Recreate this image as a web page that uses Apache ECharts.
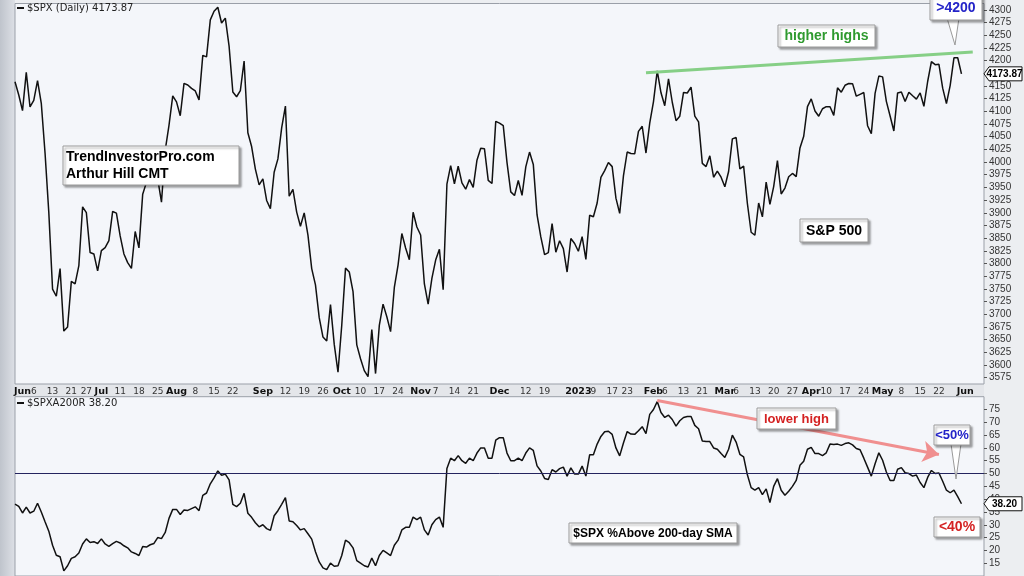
<!DOCTYPE html>
<html><head><meta charset="utf-8">
<script src="https://cdn.jsdelivr.net/npm/echarts@6/dist/echarts.min.js"></script>
<style>html,body{margin:0;padding:0;background:#e6e8ec}#c{width:1024px;height:576px}</style>
</head><body><div id="c"></div>
<script>
// Trading days (month -> days), last few June 2023 slots are empty space on the right
const tradingDays = [
 ['2022-05',[27,31]],
 ['2022-06',[1,2,3,6,7,8,9,10,13,14,15,16,17,21,22,23,24,27,28,29,30]],
 ['2022-07',[1,5,6,7,8,11,12,13,14,15,18,19,20,21,22,25,26,27,28,29]],
 ['2022-08',[1,2,3,4,5,8,9,10,11,12,15,16,17,18,19,22,23,24,25,26,29,30,31]],
 ['2022-09',[1,2,6,7,8,9,12,13,14,15,16,19,20,21,22,23,26,27,28,29,30]],
 ['2022-10',[3,4,5,6,7,10,11,12,13,14,17,18,19,20,21,24,25,26,27,28,31]],
 ['2022-11',[1,2,3,4,7,8,9,10,11,14,15,16,17,18,21,22,23,25,28,29,30]],
 ['2022-12',[1,2,5,6,7,8,9,12,13,14,15,16,19,20,21,22,23,27,28,29,30]],
 ['2023-01',[3,4,5,6,9,10,11,12,13,17,18,19,20,23,24,25,26,27,30,31]],
 ['2023-02',[1,2,3,6,7,8,9,10,13,14,15,16,17,21,22,23,24,27,28]],
 ['2023-03',[1,2,3,6,7,8,9,10,13,14,15,16,17,20,21,22,23,24,27,28,29,30,31]],
 ['2023-04',[3,4,5,6,10,11,12,13,14,17,18,19,20,21,24,25,26,27,28]],
 ['2023-05',[1,2,3,4,5,8,9,10,11,12,15,16,17,18,19,22,23,24,25,26,30,31]],
 ['2023-06',[1,2,5,6,7,8]]
];

// $SPX daily closes
const spx = [
 4158.24,4132.15,
 4101.23,4176.82,4108.54,4121.43,4160.68,4115.77,4017.82,3900.86,3749.63,3735.48,3789.99,3666.77,3674.84,3764.79,3759.89,3795.73,3911.74,3900.11,3821.55,3818.83,3785.38,
 3825.33,3831.39,3845.08,3902.62,3899.38,3854.43,3818.80,3801.78,3790.38,3863.16,3830.85,3936.69,3959.90,3998.95,3961.63,3966.84,3921.05,4023.61,4072.43,4130.29,
 4118.63,4091.19,4155.17,4151.94,4145.19,4140.06,4122.47,4210.24,4207.27,4280.15,4297.14,4305.20,4274.04,4283.74,4228.48,4137.99,4128.73,4140.77,4199.12,4057.66,4030.61,3986.16,3955.00,
 3966.85,3924.26,3908.19,3979.87,4006.18,4067.36,4110.41,3932.69,3946.01,3901.35,3873.33,3899.89,3855.93,3789.93,3757.99,3693.23,3655.04,3647.29,3719.04,3640.47,3585.62,
 3678.43,3790.93,3783.28,3744.52,3639.66,3612.39,3588.84,3577.03,3669.91,3583.07,3677.95,3719.98,3695.16,3665.78,3752.75,3797.34,3859.11,3830.60,3807.30,3901.06,3871.98,
 3856.10,3759.69,3719.89,3770.55,3806.80,3828.11,3748.57,3956.37,3992.93,3957.25,3991.73,3958.79,3946.56,3965.34,3949.94,4003.58,4027.26,4026.12,3963.94,3957.63,4080.11,
 4076.57,4071.70,3998.84,3941.26,3933.92,3963.51,3934.38,3990.56,4019.65,3995.32,3895.75,3852.36,3817.66,3821.62,3878.44,3822.39,3844.82,3829.25,3783.22,3849.28,3839.50,
 3824.14,3852.97,3808.10,3895.08,3892.09,3919.25,3969.61,3983.17,3999.09,3990.97,3928.86,3898.85,3972.61,4019.81,4016.95,4016.22,4060.43,4070.56,4017.77,4076.60,
 4119.21,4179.76,4136.48,4111.08,4164.00,4117.86,4081.50,4090.46,4137.29,4136.13,4147.60,4090.41,4079.09,3997.34,3991.05,4012.32,3970.04,3982.24,3970.15,
 3951.39,3981.35,4045.64,4048.42,3986.37,3992.01,3918.32,3861.59,3855.76,3919.29,3891.93,3960.28,3916.64,3951.57,4002.87,3936.97,3948.72,3970.99,3977.53,3971.27,4027.81,4050.83,4109.31,
 4124.51,4100.60,4090.38,4105.02,4109.11,4108.94,4091.95,4146.22,4137.64,4151.32,4154.87,4154.52,4129.79,4133.52,4137.04,4071.63,4055.99,4135.35,4169.48,
 4167.87,4119.58,4090.75,4061.22,4136.25,4138.12,4119.17,4137.64,4130.62,4124.08,4136.28,4109.90,4158.77,4198.05,4191.98,4192.63,4145.58,4115.24,4151.28,4205.45,4205.52,4173.87
];

// $SPXA200R - % of S&P 500 stocks above 200-day SMA
const breadth = [
 38.1,37.2,
 34.6,36.9,34.6,35.3,38.4,35.0,31.2,27.5,22.0,18.1,17.5,12.0,14.0,16.9,17.5,19.0,22.5,24.5,23.1,23.4,22.7,
 24.5,22.5,21.6,22.6,23.5,22.9,21.8,21.0,19.4,18.8,18.0,21.5,21.3,22.2,22.7,25.0,24.6,27.0,32.5,36.0,
 36.0,34.0,35.8,35.6,36.3,37.0,35.5,41.5,42.4,46.0,48.3,51.0,49.3,49.8,47.5,38.0,37.1,38.4,42.3,34.5,32.9,30.8,29.2,
 30.0,28.5,27.8,33.5,35.5,38.0,40.6,31.5,31.2,29.7,28.0,28.5,26.5,24.4,19.5,15.5,13.2,12.5,15.0,13.8,14.0,
 18,24,23,21,16,15,14,13.5,17,14,18,20,19,18,22,24,28,29,29,33,32,
 33,28,26,30,32,33,29,52,56,55,57,55,54,56,55,58,60,60,56,56,63,
 64,64,58,55,55,56,55,58,60,59,53,51,48.1,47.7,51.5,50.6,51.9,52.5,49.0,52.2,49.8,
 49.8,52.9,49.0,57.3,57.3,61.5,64.5,66.3,66.5,65.3,60.0,56.9,61.9,66.4,65.4,65.3,66.7,68.3,65.6,73.1,
 75.0,78.1,73.8,71.9,72.8,71.1,68.5,70.6,71.9,72.3,72.3,68.8,67.5,62.7,62.5,62.5,60.0,59.5,57.8,
 56.3,59.5,65.0,62.3,57.5,56.5,49.5,44.5,43.5,44.5,41.8,44.0,38.7,45.0,48.0,43.5,41.5,43.1,45.0,47.3,53.2,54.8,59.5,
 60.2,57.8,57.8,57.0,58.1,61.5,61.3,61.5,61.0,61.7,62.0,61.2,59.8,59.3,56.0,52.5,49.0,53.8,58.1,
 55.2,50.6,47.3,47.3,51.7,52.3,50.3,50.0,49.0,49.4,46.5,44.5,48.5,51.2,50.0,50.2,47.0,43.5,42.5,43.5,41.0,38.2
];

const spxTicks = [3575,3600,3625,3650,3675,3700,3725,3750,3775,3800,3825,3850,3875,3900,3925,3950,3975,4000,4025,4050,4075,4100,4125,4150,4175,4200,4225,4250,4275,4300];
const breadthTicks = [15,20,25,30,35,40,45,50,55,60,65,70,75];

// [date, label, bold]
const xTickLabels = [
 ['2022-06-01','Jun',1],['2022-06-06','6',0],['2022-06-13','13',0],['2022-06-21','21',0],['2022-06-27','27',0],
 ['2022-07-01','Jul',1],['2022-07-11','11',0],['2022-07-18','18',0],['2022-07-25','25',0],
 ['2022-08-01','Aug',1],['2022-08-08','8',0],['2022-08-15','15',0],['2022-08-22','22',0],
 ['2022-09-01','Sep',1],['2022-09-12','12',0],['2022-09-19','19',0],['2022-09-26','26',0],
 ['2022-10-03','Oct',1],['2022-10-10','10',0],['2022-10-17','17',0],['2022-10-24','24',0],
 ['2022-11-01','Nov',1],['2022-11-07','7',0],['2022-11-14','14',0],['2022-11-21','21',0],
 ['2022-12-01','Dec',1],['2022-12-12','12',0],['2022-12-19','19',0],
 ['2023-01-03','2023',1],['2023-01-09','9',0],['2023-01-17','17',0],['2023-01-23','23',0],
 ['2023-02-01','Feb',1],['2023-02-06','6',0],['2023-02-13','13',0],['2023-02-21','21',0],
 ['2023-03-01','Mar',1],['2023-03-06','6',0],['2023-03-13','13',0],['2023-03-20','20',0],['2023-03-27','27',0],
 ['2023-04-03','Apr',1],['2023-04-10','10',0],['2023-04-17','17',0],['2023-04-24','24',0],
 ['2023-05-01','May',1],['2023-05-08','8',0],['2023-05-15','15',0],['2023-05-22','22',0],
 ['2023-06-01','Jun',1]
];

const spxName = '$SPX (Daily)';
const breadthName = '$SPXA200R';

const categories = [];
tradingDays.forEach(([m, days]) => days.forEach(d => categories.push(m + '-' + String(d).padStart(2,'0'))));
const labelMap = new Map(xTickLabels.map(([d,t,b]) => [d,{t,b}]));

const FONT_AX = '"Liberation Sans", Arial, sans-serif';
const FONT_SM = '"DejaVu Sans", Verdana, sans-serif';

const chart = echarts.init(document.getElementById('c'), null, {renderer:'canvas'});
const lastSpx = spx[spx.length-1];
const lastBr = breadth[breadth.length-1];

chart.setOption({
  animation: false,
  backgroundColor: '#eceef1',
  grid: [
    {left:15, top:3.5, width:969, height:380.5, show:true, backgroundColor:'#f4f6fa', borderColor:'#9a9fa8', borderWidth:1},
    {left:15, top:396.7, width:969, height:186.7, show:true, backgroundColor:'#f4f6fa', borderColor:'#9a9fa8', borderWidth:1}
  ],
  xAxis: [
    {type:'category', gridIndex:0, data:categories, boundaryGap:false,
     axisLine:{show:false}, axisTick:{show:false}, splitLine:{show:false},
     axisLabel:{
       interval:(i,v)=>labelMap.has(v),
       margin:3, fontSize:9, color:'#333', fontFamily:FONT_SM,
       formatter:(v)=>{const l=labelMap.get(v); if(!l) return ''; return l.b ? '{b|'+l.t+'}' : l.t;},
       rich:{b:{fontWeight:'bold', fontSize:9.5, color:'#111', fontFamily:FONT_SM}}
     }},
    {type:'category', gridIndex:1, data:categories, boundaryGap:false,
     axisLine:{show:false}, axisTick:{show:false}, axisLabel:{show:false}, splitLine:{show:false}}
  ],
  yAxis: [
    {type:'value', gridIndex:0, position:'right', min:3562.5, max:4312.5, scale:true,
     axisLine:{show:false}, splitLine:{show:false},
     axisTick:{show:true, length:3, customValues:spxTicks, lineStyle:{color:'#555'}},
     axisLabel:{customValues:spxTicks, formatter:(v)=>String(v), margin:5, fontSize:10, color:'#333', fontFamily:FONT_AX}},
    {type:'value', gridIndex:1, position:'right', min:10, max:80,
     axisLine:{show:false}, splitLine:{show:false},
     axisTick:{show:true, length:3, customValues:breadthTicks, lineStyle:{color:'#555'}},
     axisLabel:{customValues:breadthTicks, formatter:(v)=>String(v), margin:5, fontSize:10, color:'#333', fontFamily:FONT_AX}}
  ],
  series: [
    {name:spxName, type:'line', xAxisIndex:0, yAxisIndex:0, data:spx, symbol:'none',
     lineStyle:{color:'#111', width:1.5}, z:3,
     markLine:{silent:true, symbol:['none','arrow'], symbolSize:[0,16], label:{show:false},
       lineStyle:{color:'#86cf86', width:3, type:'solid'},
       data:[[{coord:['2023-01-30',4176]},{coord:['2023-06-05',4217]}]]}},
    {name:breadthName, type:'line', xAxisIndex:1, yAxisIndex:1, data:breadth, symbol:'none',
     lineStyle:{color:'#111', width:1.5}, z:3,
     markLine:{silent:true, label:{show:false}, symbol:['none','none'],
       data:[
         {yAxis:50, lineStyle:{color:'#24245e', width:1, type:'solid'}},
         [{coord:['2023-02-02',78.5], symbol:'none'},{coord:['2023-05-22',57.4], symbol:'arrow', symbolSize:16}]
       ],
       lineStyle:{color:'#f08f8f', width:3, type:'solid'}}}
  ]
});

// ---------- annotations ----------
const ZT = 100;
const shadowBox = {fill:'#fff', stroke:'#9a9a9a', lineWidth:1, shadowBlur:2, shadowOffsetX:2, shadowOffsetY:2, shadowColor:'rgba(0,0,0,0.35)'};
function box(x,y,w,h,text,color,size){
  return [
    {type:'rect', z:ZT, shape:{x:x,y:y,width:w,height:h}, style:Object.assign({}, shadowBox)},
    {type:'text', z:ZT+1, style:{text:text, x:x+w/2, y:y+h/2+0.5, align:'center', verticalAlign:'middle',
      fill:color, font:'bold '+size+'px "Liberation Sans", Arial, sans-serif'}}
  ];
}
function tail(pts){
  return {type:'polygon', z:ZT-1, shape:{points:pts}, style:{fill:'#fff', stroke:'#9a9a9a', lineWidth:1}};
}
function valueTag(yPix, text){
  const x0=984, h=14, y0=yPix-h/2;
  return [
    {type:'polygon', z:ZT, shape:{points:[[x0,yPix],[x0+5,y0],[1022,y0],[1022,y0+h],[x0+5,y0+h]]},
     style:{fill:'#fff', stroke:'#111', lineWidth:1}},
    {type:'text', z:ZT+1, style:{text:text, x:1004.5, y:yPix+0.5, align:'center', verticalAlign:'middle',
      fill:'#000', font:'bold 10px "Liberation Sans", Arial, sans-serif'}}
  ];
}
const ySpx = chart.convertToPixel({yAxisIndex:0}, lastSpx);
const yBr = chart.convertToPixel({yAxisIndex:1}, lastBr);

const g = [
  {type:'rect', z:-10, shape:{x:0,y:0,width:15,height:576},
   style:{fill:new echarts.graphic.LinearGradient(0,0,1,0,[{offset:0,color:'#bfc4cc'},{offset:1,color:'#dde0e6'}])}},
  {type:'rect', z:-10, shape:{x:15,y:384,width:969,height:12.7}, style:{fill:'#e4e6ea'}},
  {type:'line', z:ZT, shape:{x1:17,y1:8,x2:24,y2:8}, style:{stroke:'#111', lineWidth:2}},
  {type:'text', z:ZT, style:{text:spxName+' '+lastSpx.toFixed(2), x:27, y:8.5, verticalAlign:'middle', fill:'#222', font:'10px '+FONT_SM}},
  {type:'line', z:ZT, shape:{x1:17,y1:403,x2:24,y2:403}, style:{stroke:'#111', lineWidth:2}},
  {type:'text', z:ZT, style:{text:breadthName+' '+lastBr.toFixed(2), x:27, y:403.5, verticalAlign:'middle', fill:'#222', font:'10px '+FONT_SM}},
  {type:'rect', z:ZT, shape:{x:63,y:146,width:176,height:39}, style:Object.assign({}, shadowBox)},
  {type:'text', z:ZT+1, style:{text:'TrendInvestorPro.com', x:66, y:157, verticalAlign:'middle', fill:'#000', font:'bold 14px "Liberation Sans", Arial, sans-serif'}},
  {type:'text', z:ZT+1, style:{text:'Arthur Hill CMT', x:66, y:174, verticalAlign:'middle', fill:'#000', font:'bold 14px "Liberation Sans", Arial, sans-serif'}},
  ...box(778,25,97,22,'higher highs','#2f9a2f',14),
  tail([[947,18],[959,18],[955,45]]),
  ...box(930,-4,52,24,'>4200','#2424c8',14),
  ...box(800,219,68,23,'S&P 500','#000',14),
  ...box(757,408,79,21,'lower high','#d42222',13),
  tail([[951,444],[961,444],[956,479]]),
  ...box(934,425,36,20,'<50%','#2424c8',13),
  ...box(934,517,46,20,'<40%','#d42222',14),
  ...box(569,523,168,20,'$SPX %Above 200-day SMA','#000',12),
  ...valueTag(ySpx, lastSpx.toFixed(2)),
  ...valueTag(yBr, lastBr.toFixed(2))
];
chart.setOption({graphic:{elements:g}});
</script>
</body></html>
